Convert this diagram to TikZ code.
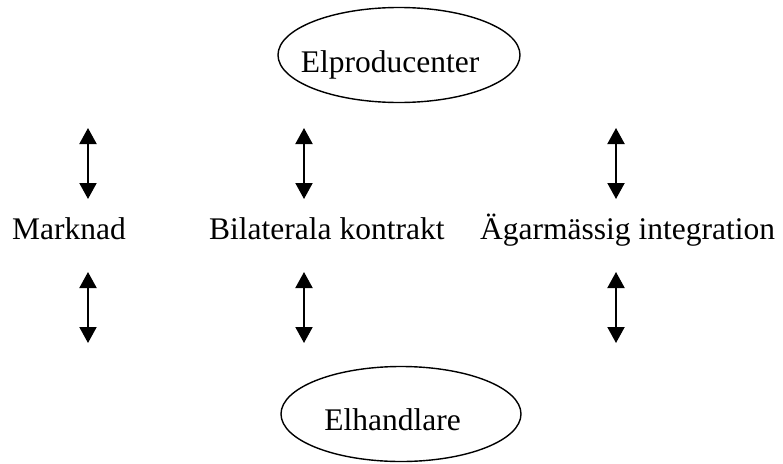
\documentclass[tikz,border=0pt]{standalone}
\usepackage{fontspec}
\setmainfont{Liberation Serif}
\usetikzlibrary{shapes.geometric,arrows.meta}
\begin{document}
\begin{tikzpicture}[x=1pt,y=-1pt,
  oval/.style={draw, ellipse, line width=1.4pt, inner sep=0pt},
  lbl/.style={inner sep=0pt, font=\fontsize{31.5}{36}\selectfont},
  dbl/.style={line width=2pt, {Triangle[length=16pt,width=17pt]}-{Triangle[length=16pt,width=17pt]}}]
\useasboundingbox (0,0) rectangle (783,463);
\node[oval, minimum width=242pt, minimum height=95pt] (prod) at (399,55) {};
\node[lbl, anchor=base] (prodt) at (390,72) {Elproducenter};
\node[oval, minimum width=240pt, minimum height=95pt] (hand) at (401,414) {};
\node[lbl, anchor=base] (handt) at (392.5,430) {Elhandlare};
\node[lbl, anchor=base west] (mark) at (12,239) {Marknad};
\node[lbl, anchor=base west] (bil) at (209,239) {Bilaterala kontrakt};
\node[lbl, anchor=base west] (agar) at (480,239) {Ägarmässig integration};
\coordinate (a1t) at (88,128);  \coordinate (a1b) at (88,199);
\coordinate (a2t) at (304,128); \coordinate (a2b) at (304,199);
\coordinate (a3t) at (616,128); \coordinate (a3b) at (616,199);
\coordinate (b1t) at (88,272);  \coordinate (b1b) at (88,343);
\coordinate (b2t) at (304,272); \coordinate (b2b) at (304,343);
\coordinate (b3t) at (616,272); \coordinate (b3b) at (616,343);
\draw[dbl] (a1t) -- (a1b);
\draw[dbl] (a2t) -- (a2b);
\draw[dbl] (a3t) -- (a3b);
\draw[dbl] (b1t) -- (b1b);
\draw[dbl] (b2t) -- (b2b);
\draw[dbl] (b3t) -- (b3b);
\end{tikzpicture}
\end{document}
